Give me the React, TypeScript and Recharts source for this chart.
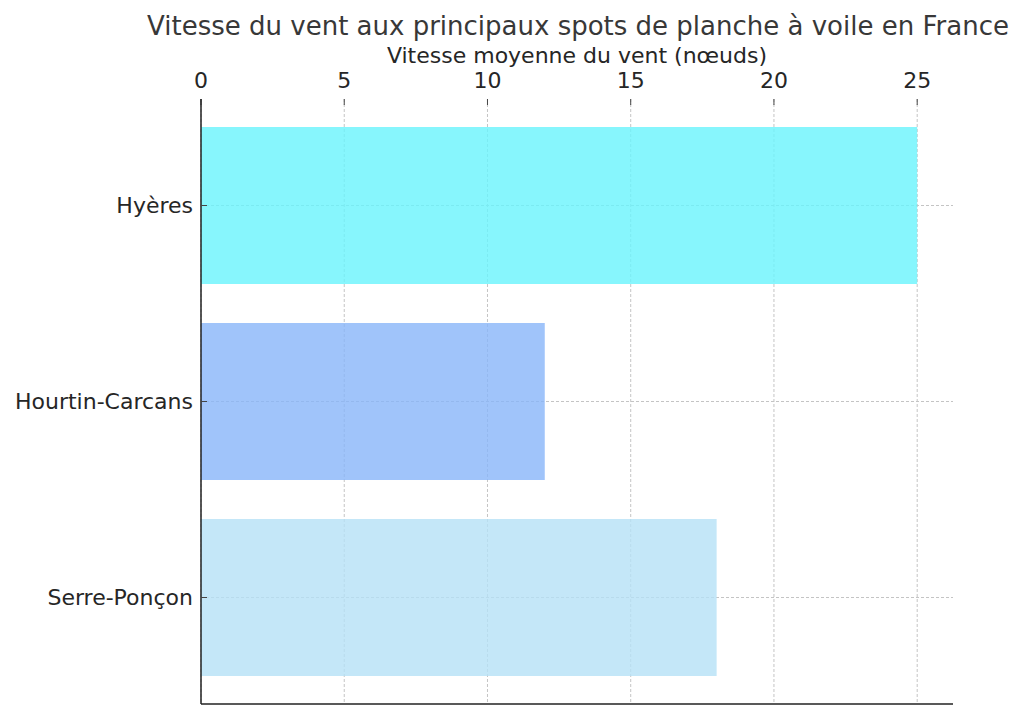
import { BarChart, Bar, XAxis, YAxis, CartesianGrid, Cell } from 'recharts'

const spots = ['Hyères', 'Hourtin-Carcans', 'Serre-Ponçon']
const windSpeeds = [25, 12, 18]
const barColors = ['#69F4FC', '#88B5F9', '#B5E1F6']
const speedTicks = [0, 5, 10, 15, 20, 25]

const data = spots.map((name, i) => ({ name, speed: windSpeeds[i] }))

const FONT = '"DejaVu Sans", sans-serif'

const App = () => {
  return (
    <div style={{ position: 'absolute', left: 0, top: 0, width: 1024, height: 718, background: '#fff' }}>
      <div
        style={{
          position: 'absolute',
          left: 132,
          width: 892,
          top: 11,
          textAlign: 'center',
          fontFamily: FONT,
          fontSize: 26,
          color: '#383838',
          lineHeight: '30px',
          whiteSpace: 'nowrap',
        }}
      >
        Vitesse du vent aux principaux spots de planche à voile en France
      </div>
      <BarChart
        width={1024}
        height={718}
        data={data}
        layout="vertical"
        barCategoryGap="10%"
        margin={{ top: 59, right: 71, bottom: 10, left: 11 }}
        style={{ fontFamily: FONT }}
      >
        <CartesianGrid
          xAxisId="top"
          stroke="#c4c4c4"
          strokeDasharray="3 2"
          strokeWidth={1}
          syncWithTicks
        />
        <XAxis
          xAxisId="top"
          type="number"
          orientation="top"
          domain={[0, 26.25]}
          ticks={speedTicks}
          allowDataOverflow
          height={40}
          axisLine={false}
          tickSize={-6}
          tickMargin={17}
          tickLine={{ stroke: '#444' }}
          tick={{ fill: '#262626', fontSize: 22 }}
          label={{
            value: 'Vitesse moyenne du vent (nœuds)',
            position: 'top',
            offset: -4,
            fill: '#262626',
            fontSize: 22,
          }}
        />
        <XAxis
          xAxisId="bottom"
          type="number"
          orientation="bottom"
          domain={[0, 26.25]}
          height={4}
          tick={false}
          tickLine={false}
          axisLine={{ stroke: '#222', strokeWidth: 1.5 }}
        />
        <YAxis
          type="category"
          dataKey="name"
          width={190}
          padding={{ top: 8.5, bottom: 8.5 }}
          axisLine={{ stroke: '#222', strokeWidth: 1.5 }}
          tickSize={-6}
          tickMargin={14}
          tickLine={{ stroke: '#444' }}
          tick={{ fill: '#262626', fontSize: 22 }}
        />
        <Bar xAxisId="top" dataKey="speed" fillOpacity={0.8} isAnimationActive={false}>
          {data.map((d, i) => (
            <Cell key={d.name} fill={barColors[i]} />
          ))}
        </Bar>
      </BarChart>
    </div>
  )
}

export default App
